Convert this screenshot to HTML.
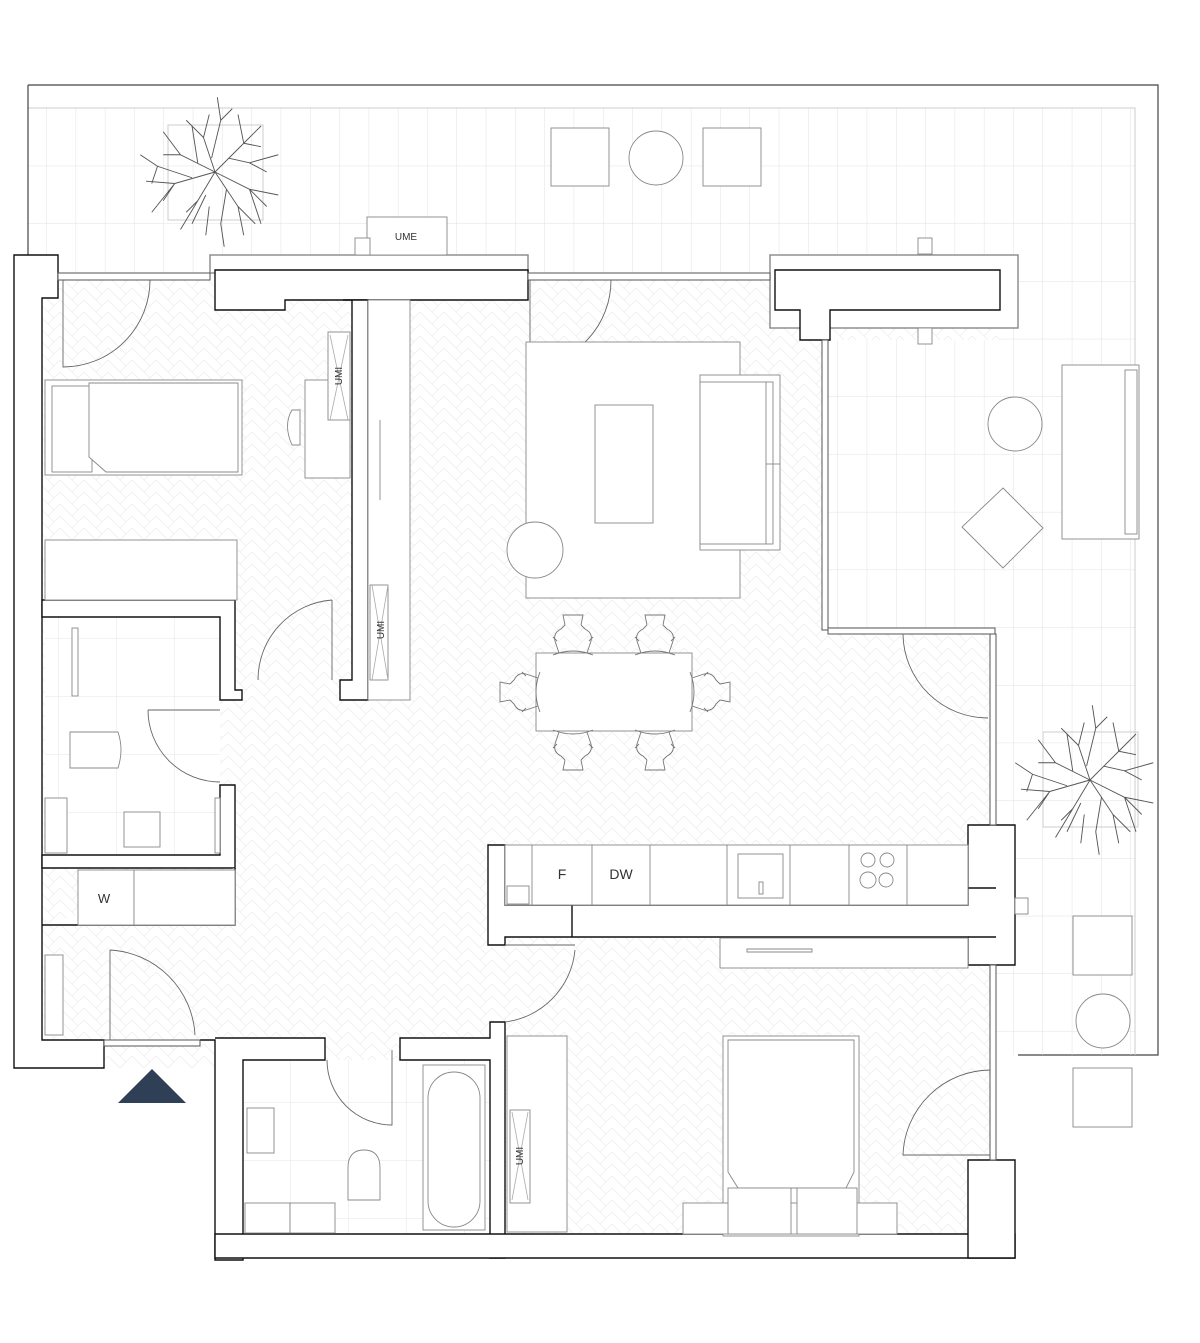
<!DOCTYPE html>
<html><head><meta charset="utf-8"><style>
html,body{margin:0;padding:0;background:#fff;}
svg{display:block;}
text{font-family:"Liberation Sans",sans-serif;fill:#333;}
</style></head><body>
<svg width="1200" height="1343" viewBox="0 0 1200 1343" xmlns="http://www.w3.org/2000/svg">
<defs>
<pattern id="tile" x="17" y="108" width="29.3" height="57.7" patternUnits="userSpaceOnUse">
<path d="M0 0H29.3M0 0V57.7" stroke="#e2e2e2" stroke-width="1" fill="none"/>
</pattern>
<pattern id="wet" x="0" y="0" width="58" height="58" patternUnits="userSpaceOnUse">
<path d="M0 0H58M0 0V58" stroke="#e4e4e4" stroke-width="1" fill="none"/>
</pattern>
<pattern id="herr" width="24" height="24" patternUnits="userSpaceOnUse">
<path d="M0 12L12 0L24 12M0 24L12 12L24 24M12 0L18 6M0 12L6 18M12 12L18 18M0 0L6 6" stroke="#f0f0f0" stroke-width="0.9" fill="none"/>
</pattern>
<g id="tree" stroke="#555" stroke-width="0.8" fill="none">
<path d="M0 0L-10-30L-5-50M-10-30L-25-45M-3-12L5-45L2-65M5-45L15-55M0 0L25-25L40-40M25-25L40-22M12-12L30-8L55-15M30-8L45 0M0 0L30 15L55 20M30 15L45 30M0 0L20 30L25 55M20 30L35 45M10 15L5 45L8 65M0 0L-15 25L-30 50M-15 25L-25 35M-8 20L-20 45M0 0L-35 10L-60 8M-35 10L-45 25M-20 5L-50 -5L-65 -15M-50-5L-55 10M0 0L-30-15L-45-35M-30-15L-45-15M-15-8L-20-40M-5 30L-8 55M-35 10L-55 35M25 -25L20 -50M30 15L40 45"/>
</g>
<g id="dchair" stroke="#777" stroke-width="0.9" fill="none">
<path d="M-20 22Q0 14 20 22M-14 20L-18 8Q-20 0-12-4L-8-8M14 20L18 8Q20 0 12-4L8-8M-8-8L-10-18L10-18L8-8M-16 8L-20 4M16 8L20 4"/>
</g>
</defs>

<!-- terrace -->
<path d="M28 85H1158V1055H1018" stroke="#444" stroke-width="1.2" fill="none"/>
<rect x="28" y="108" width="1107" height="947" fill="url(#tile)"/>
<path d="M28 108H1135V1055" stroke="#ccc" stroke-width="1" fill="none"/>
<line x1="28" y1="85" x2="28" y2="255" stroke="#444" stroke-width="1.2"/>

<!-- interior floor -->
<path d="M42 280H1000V340H825V630H990V1160H970V1235H215V1068H42Z" fill="#fff"/>
<path d="M42 280H1000V340H825V630H990V1160H970V1235H215V1068H42Z" fill="url(#herr)"/>
<rect x="45" y="617" width="175" height="238" fill="#fff"/>
<rect x="45" y="617" width="175" height="238" fill="url(#wet)"/>
<rect x="243" y="1060" width="247" height="174" fill="#fff"/>
<rect x="243" y="1060" width="247" height="174" fill="url(#wet)"/>

<!-- walls -->
<g fill="#fff" stroke="#111" stroke-width="1.4">
<path d="M14 255H58V298H42V1040H104V1068H14Z"/>
<rect x="210" y="255" width="318" height="18" stroke="#888"/>
<path d="M215 270H528V300H285V310H215Z"/>
<path d="M343 300H368V700H340V680H352V300Z"/>
<rect x="770" y="255" width="248" height="73" stroke="#888"/>
<path d="M775 270H1000V310H830V340H800V310H775Z"/>
<path d="M42 600H235V690H242V700H220V617H42Z"/>
<path d="M220 785H235V868H42V855H220Z"/>
<path d="M42 925H235V868"/>
<path d="M200 1040H215V1260H243V1060H325V1038H215"/>
<path d="M400 1038H490V1022H505V1258H490V1060H400Z"/>
<path d="M215 1234H1015V1258H215Z"/>
<path d="M488 845H505V905H968V825H1015V965H968V937H505V945H488Z"/>
<path d="M968 1160H1015V1258H968Z"/>
<line x1="968" y1="888" x2="996" y2="888"/>
<line x1="968" y1="937" x2="996" y2="937"/>
<line x1="572" y1="905" x2="572" y2="937"/>
</g>
<g stroke="#555" stroke-width="1" fill="#fff">
<rect x="58" y="273" width="152" height="7"/>
<rect x="528" y="273" width="242" height="7"/>
<rect x="822" y="340" width="6" height="290"/>
<rect x="828" y="628" width="167" height="6"/>
<rect x="990" y="634" width="6" height="191"/>
<rect x="990" y="965" width="6" height="195"/>
<rect x="104" y="1040" width="96" height="6"/>
</g>

<!-- doors -->
<g stroke="#666" stroke-width="0.9" fill="none">
<path d="M63 280V367A87 87 0 0 0 150 280"/>
<path d="M611 280A87 87 0 0 1 530 367V280"/>
<path d="M332 600A80 80 0 0 0 258 680M332 600V680"/>
<path d="M148 710H220M148 710A72 72 0 0 0 220 782"/>
<path d="M110 950V1040M110 950A90 90 0 0 1 195 1035"/>
<path d="M575 950A80 80 0 0 1 505 1022M505 945H575"/>
<path d="M392 1050V1125A65 65 0 0 1 327 1060"/>
<path d="M990 1070A88 88 0 0 0 903 1155H990"/>
<path d="M903 634A85 85 0 0 0 988 718"/>
</g>

<!-- furniture -->
<g stroke="#888" stroke-width="0.9" fill="#fff">
<rect x="45" y="380" width="197" height="95"/>
<rect x="52" y="386" width="40" height="86"/>
<path d="M89 383H238V472H106L89 457Z"/>
<rect x="45" y="540" width="192" height="60"/>
<rect x="305" y="380" width="45" height="98"/>
<rect x="328" y="332" width="22" height="88"/>
<path d="M292 410Q283 425 292 445H300V410Z"/>
<rect x="526" y="342" width="214" height="256"/>
<rect x="595" y="405" width="58" height="118"/>
<rect x="700" y="375" width="80" height="175"/>
<rect x="700" y="382" width="73" height="162"/>
<line x1="766" y1="382" x2="766" y2="544"/>
<line x1="766" y1="464" x2="780" y2="464"/>
<circle cx="535" cy="550" r="28"/>
<rect x="368" y="300" width="42" height="400"/>
<rect x="370" y="585" width="18" height="95"/>
<line x1="380" y1="420" x2="380" y2="500"/>
<rect x="536" y="653" width="156" height="78"/>
<rect x="505" y="845" width="463" height="60"/>
<line x1="532" y1="845" x2="532" y2="905"/>
<line x1="592" y1="845" x2="592" y2="905"/>
<line x1="650" y1="845" x2="650" y2="905"/>
<line x1="727" y1="845" x2="727" y2="905"/>
<line x1="790" y1="845" x2="790" y2="905"/>
<line x1="849" y1="845" x2="849" y2="905"/>
<line x1="907" y1="845" x2="907" y2="905"/>
<rect x="738" y="854" width="45" height="44"/>
<rect x="759" y="882" width="4" height="12"/>
<rect x="507" y="886" width="22" height="18"/>
<circle cx="868" cy="860" r="7"/><circle cx="887" cy="860" r="7"/>
<circle cx="868" cy="880" r="8"/><circle cx="886" cy="880" r="7"/>
<rect x="720" y="938" width="248" height="30"/>
<path d="M747 949H812V952H747Z"/>
<rect x="78" y="870" width="56" height="55"/>
<rect x="134" y="870" width="101" height="55"/>
<rect x="45" y="955" width="18" height="80"/>
<rect x="72" y="628" width="6" height="68"/>
<path d="M70 732H118Q124 750 118 768H70Z"/>
<rect x="124" y="812" width="36" height="35"/>
<rect x="45" y="798" width="22" height="55"/>
<rect x="215" y="798" width="5" height="55"/>
<rect x="423" y="1065" width="62" height="165"/>
<rect x="428" y="1072" width="52" height="155" rx="26"/>
<rect x="247" y="1108" width="27" height="45"/>
<path d="M348 1200V1168Q348 1150 364 1150Q380 1150 380 1168V1200Z"/>
<rect x="245" y="1203" width="45" height="30"/>
<rect x="290" y="1203" width="45" height="30"/>
<rect x="507" y="1036" width="60" height="196"/>
<rect x="510" y="1110" width="20" height="93"/>
<rect x="723" y="1036" width="136" height="200"/>
<path d="M728 1040H854V1172L846 1188H738L728 1172Z"/>
<rect x="683" y="1203" width="214" height="31"/>
<rect x="728" y="1188" width="63" height="46"/>
<rect x="797" y="1188" width="60" height="46"/>
<rect x="551" y="128" width="58" height="58"/>
<circle cx="656" cy="158" r="27"/>
<rect x="703" y="128" width="58" height="58"/>
<rect x="367" y="217" width="80" height="38"/>
<rect x="355" y="238" width="15" height="17"/>
<rect x="918" y="238" width="14" height="16"/>
<rect x="918" y="328" width="14" height="16"/>
<rect x="1062" y="365" width="77" height="174"/>
<rect x="1125" y="370" width="12" height="164"/>
<circle cx="1015" cy="424" r="27"/>
<path d="M1003 488L1043 528L1003 568L962 527Z"/>
<rect x="1073" y="916" width="59" height="59"/>
<circle cx="1103" cy="1021" r="27"/>
<rect x="1073" y="1068" width="59" height="59"/>
<rect x="1015" y="898" width="13" height="16"/>
</g>
<g stroke="#aaa" stroke-width="0.8" fill="none">
<path d="M330 335L348 420M348 335L330 420M372 585L388 680M388 585L372 680M512 1112L528 1200M528 1112L512 1200"/>
</g>

<rect x="168" y="125" width="95" height="95" fill="none" stroke="#ccc"/>
<rect x="1043" y="732" width="95" height="95" fill="none" stroke="#ccc"/>
<use href="#tree" transform="translate(215,172) scale(1.15)"/>
<use href="#tree" transform="translate(1090,780) scale(1.15)"/>

<use href="#dchair" transform="translate(573,633)"/>
<use href="#dchair" transform="translate(655,633)"/>
<use href="#dchair" transform="translate(573,752) rotate(180)"/>
<use href="#dchair" transform="translate(655,752) rotate(180)"/>
<use href="#dchair" transform="translate(518,692) rotate(-90)"/>
<use href="#dchair" transform="translate(712,692) rotate(90)"/>

<text x="406" y="240" font-size="10" text-anchor="middle">UME</text>
<text x="562" y="879" font-size="14" text-anchor="middle">F</text>
<text x="621" y="879" font-size="14" text-anchor="middle">DW</text>
<text x="104" y="903" font-size="13" text-anchor="middle">W</text>
<text transform="translate(342,376) rotate(-90)" font-size="10" text-anchor="middle">UMI</text>
<text transform="translate(384,630) rotate(-90)" font-size="10" text-anchor="middle">UMI</text>
<text transform="translate(523,1156) rotate(-90)" font-size="10" text-anchor="middle">UMI</text>

<path d="M118 1103L152 1069L186 1103Z" fill="#2f3f56"/>
</svg>
</body></html>
